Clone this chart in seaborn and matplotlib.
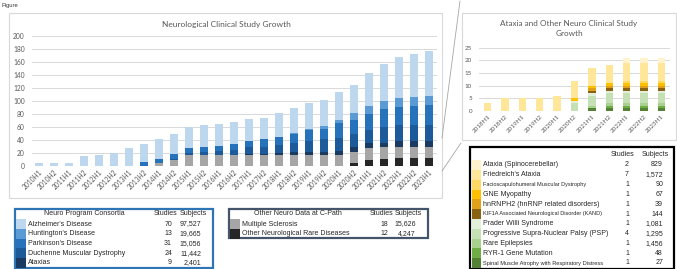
import numpy as np
import pandas as pd
import seaborn as sns
import matplotlib.pyplot as plt
from matplotlib.patches import Rectangle
from matplotlib.lines import Line2D

# main chart data (studies per half-year, stacked)
periods = ['2010H1', '2010H2', '2011H1', '2011H2', '2012H1', '2012H2', '2013H1', '2013H2',
           '2014H1', '2014H2', '2015H1', '2015H2', '2016H1', '2016H2', '2017H1', '2017H2',
           '2018H1', '2018H2', '2019H1', '2019H2', '2020H1', '2020H2', '2021H1', '2021H2',
           '2022H1', '2022H2', '2023H1']
other_rare = [0, 0, 0, 0, 0, 0, 0, 0, 0, 0, 0, 0, 0, 0, 0, 0, 0, 0, 0, 0, 0, 5, 10, 11, 12, 12, 12]
mult_scl = [0, 0, 0, 0, 0, 0, 0, 0, 5, 9, 17, 17, 17, 17, 17, 17, 17, 17, 17, 17, 17, 17, 18, 18, 18, 18, 18]
ataxias = [0, 0, 0, 0, 0, 0, 0, 0, 0, 0, 0, 0, 0, 0, 2, 2, 3, 5, 5, 5, 6, 7, 7, 7, 9, 9, 9]
duchenne = [0, 0, 0, 0, 0, 0, 0, 0, 0, 2, 3, 5, 6, 8, 10, 11, 12, 14, 17, 19, 20, 20, 20, 24, 24, 24, 24]
parkinson = [0, 0, 0, 0, 0, 0, 0, 6, 6, 7, 7, 8, 8, 9, 10, 11, 12, 13, 16, 16, 23, 22, 25, 27, 28, 30, 31]
huntington = [0, 0, 0, 0, 0, 0, 0, 0, 0, 0, 0, 0, 0, 0, 0, 0, 0, 2, 2, 4, 5, 10, 12, 13, 13, 13, 13]
alzheimer = [4, 4, 5, 16, 17, 20, 28, 28, 31, 31, 33, 33, 33, 33, 33, 33, 38, 38, 40, 40, 43, 44, 51, 57, 64, 67, 70]

# inset data
inset_periods = ['2018H1', '2018H2', '2019H1', '2019H2', '2020H1', '2020H2', '2021H1', '2021H2',
                 '2022H1', '2022H2', '2023H1']
smard = [0, 0, 0, 0, 0, 0, 1, 1, 1, 1, 1]
ryr1 = [0, 0, 0, 0, 0, 0, 0, 1, 1, 1, 1]
epilepsy = [0, 0, 0, 0, 0, 0, 1, 1, 1, 1, 1]
psp = [0, 0, 0, 0, 0, 3, 4, 4, 4, 4, 4]
prader = [0, 0, 0, 0, 0, 1, 1, 1, 1, 1, 1]
kif1a = [0, 0, 0, 0, 0, 0, 1, 1, 1, 1, 1]
hnrnph2 = [0, 0, 0, 0, 0, 0, 1, 1, 1, 1, 1]
gne = [0, 0, 0, 0, 0, 1, 1, 1, 1, 1, 1]
fshd = [0, 0, 0, 0, 0, 0, 0, 0, 1, 1, 1]
friedreich = [3, 5, 5, 5, 6, 7, 7, 7, 7, 7, 7]
spinocer = [0, 0, 0, 0, 0, 0, 0, 0, 2, 2, 2]

# legend tables
consortia = ["Alzheimer's Disease", "Huntington's Disease", "Parkinson's Disease",
             "Duchenne Muscular Dystrophy", "Ataxias"]
consortia_studies = [70, 13, 31, 24, 9]
consortia_subjects = ['97,527', '19,665', '15,056', '11,442', '2,401']
other_names = ['Multiple Sclerosis', 'Other Neurological Rare Diseases']
other_studies = [18, 12]
other_subjects = ['15,626', '4,247']
inset_names = ['Ataxia (Spinocerebellar)', "Friedreich's Ataxia", 'Facioscapulohumeral Muscular Dystrophy',
               'GNE Myopathy', 'hnRNPH2 (hnRNP related disorders)',
               'KIF1A Associated Neurological Disorder (KAND)', 'Prader Willi Syndrome',
               'Progressive Supra-Nuclear Palsy (PSP)', 'Rare Epilepsies', 'RYR-1 Gene Mutation',
               'Spinal Muscle Atrophy with Respiratory Distress']
inset_studies = [2, 7, 1, 1, 1, 1, 1, 4, 1, 1, 1]
inset_subjects = ['829', '1,572', '90', '67', '39', '144', '1,081', '1,295', '1,456', '48', '27']

main_colors = ['#262626', '#A6A6A6', '#1B3A62', '#1D5A9A', '#2773BB', '#5B9BD5', '#BDD7EE']
inset_colors = ['#548235', '#70AD47', '#A9D18E', '#C5E0B4', '#E2F0D9',
                '#8A6213', '#E0A11A', '#FFC000', '#FFD966', '#FFE699', '#FFF2CC']

W, H = 677, 269


def fx(x):
    return x / W


def fy(y):
    return 1 - y / H


sns.set_style('white')
plt.rcParams['font.family'] = ['Lato', 'DejaVu Sans']
TABLE_FONT = ['Liberation Sans Narrow', 'Liberation Sans', 'DejaVu Sans']

fig = plt.figure(figsize=(W / 100, H / 100), dpi=100)


def stacked(ax, cats, series, colors, width):
    tops = np.cumsum(np.array(series, dtype=float), axis=0)
    # draw the tallest cumulative layer first so lower layers paint over it
    for top, c in reversed(list(zip(tops, colors))):
        sns.barplot(x=cats, y=top, color=c, width=width, saturation=1, order=cats,
                    errorbar=None, linewidth=0, ax=ax)


def style(ax, ymax, step, fs, n):
    ax.set_ylim(0, ymax)
    ax.set_xlim(-0.5, n - 0.5)
    ax.set_yticks(np.arange(0, ymax + 1, step))
    ax.yaxis.grid(True, color='#D9D9D9', lw=0.7)
    ax.set_axisbelow(True)
    for s in ax.spines.values():
        s.set_visible(False)
    ax.set_xlabel('')
    ax.set_ylabel('')
    ax.tick_params(length=0, labelsize=fs, colors='#595959')
    ax.tick_params(axis='y', pad=5)
    ax.tick_params(axis='x', pad=2)
    for lab in ax.get_xticklabels():
        lab.set_rotation(45)
        lab.set_ha('right')
        lab.set_rotation_mode('anchor')


# main chart
ax = fig.add_axes([fx(31.5), fy(166), (436.5 - 31.5) / W, (166 - 36) / H])
stacked(ax, periods, [other_rare, mult_scl, ataxias, duchenne, parkinson, huntington, alzheimer],
        main_colors, 0.48)
style(ax, 200, 20, 4.8, len(periods))
fig.text(fx(226), fy(24), 'Neurological Clinical Study Growth', ha='center', va='center',
         fontsize=6.0, color='#595959')

# inset chart
ax2 = fig.add_axes([fx(479), fy(111), 191 / W, (111 - 47.7) / H])
stacked(ax2, inset_periods, [smard, ryr1, epilepsy, psp, prader, kif1a, hnrnph2, gne, fshd,
                             friedreich, spinocer], inset_colors, 0.42)
style(ax2, 25, 5, 4.5, len(inset_periods))
fig.text(fx(569), fy(23.5), 'Ataxia and Other Neuro Clinical Study', ha='center', va='center',
         fontsize=5.9, color='#595959')
fig.text(fx(569), fy(33.5), 'Growth', ha='center', va='center', fontsize=5.9, color='#595959')

# chart frames and callout lines
for (x0, y0, x1, y1) in [(9, 13, 442, 198), (462, 13, 676, 140)]:
    fig.add_artist(Rectangle((fx(x0), fy(y1)), (x1 - x0) / W, (y1 - y0) / H,
                             transform=fig.transFigure, fill=False, ec='#D9D9D9', lw=0.8))
for (xa, ya, xb, yb) in [(460, 1, 442, 138), (461, 143, 442, 171)]:
    fig.add_artist(Line2D([fx(xa), fx(xb)], [fy(ya), fy(yb)], transform=fig.transFigure,
                          color='#A6A6A6', lw=0.6))

fig.text(fx(2), fy(5), 'Figure', ha='left', va='center', fontsize=4.2, color='#333333',
         family=TABLE_FONT)


def legend_table(box, edge, header, header_x, st_x, sub_x, names, studies, subjects, colors,
                 row0, row_h, sw_x, name_x, sizes=None):
    x0, y0, x1, y1 = box
    fig.add_artist(Rectangle((fx(x0), fy(y1)), (x1 - x0) / W, (y1 - y0) / H,
                             transform=fig.transFigure, fill=False, ec=edge, lw=1.6))
    hy = row0 - row_h * 1.05
    if header:
        fig.text(fx(header_x), fy(hy), header, ha='center', va='center', fontsize=5,
                 family=TABLE_FONT)
    fig.text(fx(st_x), fy(hy), 'Studies', ha='center', va='center', fontsize=5, family=TABLE_FONT)
    fig.text(fx(sub_x), fy(hy), 'Subjects', ha='center', va='center', fontsize=5, family=TABLE_FONT)
    for k, (nm, st, sb, c) in enumerate(zip(names, studies, subjects, colors)):
        yc = row0 + k * row_h
        fig.add_artist(Rectangle((fx(sw_x[0]), fy(yc + row_h / 2)), (sw_x[1] - sw_x[0]) / W,
                                 row_h / H, transform=fig.transFigure, fc=c, ec='none'))
        fs = sizes[k] if sizes else 5
        fig.text(fx(name_x), fy(yc), nm, ha='left', va='center', fontsize=fs, family=TABLE_FONT)
        fig.text(fx(st_x + 6), fy(yc), str(st), ha='right', va='center', fontsize=5,
                 family=TABLE_FONT)
        fig.text(fx(sub_x + 8), fy(yc), sb, ha='right', va='center', fontsize=5,
                 family=TABLE_FONT)


legend_table((15, 209, 213, 268), '#2E75B6', 'Neuro Program Consortia', 84, 166, 193,
             consortia, consortia_studies, consortia_subjects, main_colors[2:][::-1],
             224, 9.7, (16, 26), 28)
legend_table((229, 209, 428, 238), '#44546A', 'Other Neuro Data at C-Path', 298, 382, 408,
             other_names, other_studies, other_subjects, main_colors[:2][::-1],
             224, 9.7, (230, 240), 242)
legend_table((470, 147, 674, 268.5), '#000000', '', 0, 623, 655,
             inset_names, inset_studies, inset_subjects, inset_colors[::-1],
             165, 9.8, (471.5, 481), 483, sizes=[5, 5, 4.0, 5, 5, 4.0, 5, 5, 5, 5, 4.1])

fig.savefig('out.png', dpi=100)
